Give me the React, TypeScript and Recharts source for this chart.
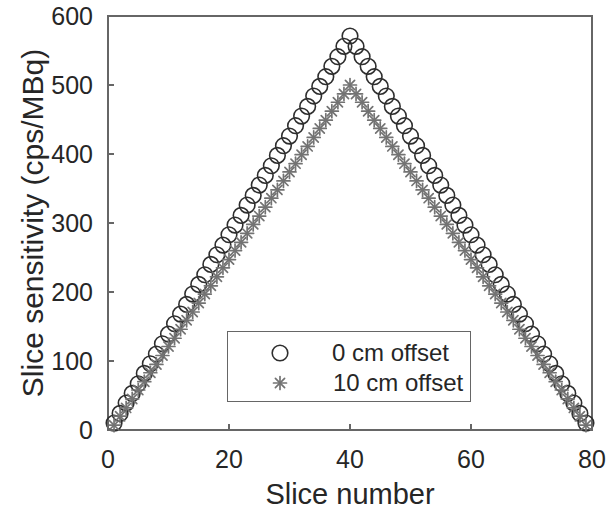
import { ScatterChart, Scatter, XAxis, YAxis, Legend } from "recharts";

// slice index along the axial field of view
const slices = [
  1, 2, 3, 4, 5, 6, 7, 8, 9, 10, 11, 12, 13, 14, 15, 16, 17, 18, 19, 20,
  21, 22, 23, 24, 25, 26, 27, 28, 29, 30, 31, 32, 33, 34, 35, 36, 37, 38, 39, 40,
  41, 42, 43, 44, 45, 46, 47, 48, 49, 50, 51, 52, 53, 54, 55, 56, 57, 58, 59, 60,
  61, 62, 63, 64, 65, 66, 67, 68, 69, 70, 71, 72, 73, 74, 75, 76, 77, 78, 79,
];

// sensitivity (cps/MBq), source at the centre
const centred = [
  10, 24, 39, 53, 67, 82, 96, 110, 125, 139, 154, 168, 182, 197, 211, 225, 240, 254, 268, 283,
  297, 311, 326, 340, 355, 369, 383, 398, 412, 426, 441, 455, 469, 484, 498, 512, 527, 541, 556, 571,
  556, 541, 527, 512, 498, 484, 469, 455, 441, 426, 412, 398, 383, 369, 355, 340, 326, 311, 297, 283,
  268, 254, 240, 225, 211, 197, 182, 168, 154, 139, 125, 110, 96, 82, 67, 53, 39, 24, 10,
];

// sensitivity (cps/MBq), source 10 cm off centre
const offCentre = [
  7, 20, 32, 45, 58, 70, 83, 95, 108, 121, 133, 146, 159, 171, 184, 197, 209, 222, 235, 247,
  260, 272, 285, 298, 310, 323, 336, 348, 361, 374, 386, 399, 411, 424, 437, 449, 462, 475, 487, 500,
  487, 475, 462, 449, 437, 424, 411, 399, 386, 374, 361, 348, 336, 323, 310, 298, 285, 272, 260, 247,
  235, 222, 209, 197, 184, 171, 159, 146, 133, 121, 108, 95, 83, 70, 58, 45, 32, 20, 7,
];

const xTicks = [0, 20, 40, 60, 80];
const yTicks = [0, 100, 200, 300, 400, 500, 600];

const FONT = "'Liberation Sans', Arial, Helvetica, sans-serif";
const INK = "#262626";
const AXIS = "#666666";
const RING = "#2e2e2e";
const STAR = "#737373";
const TICK_LEN = 6;
const LW = 2;

const W = 611;
const H = 512;
const MARGIN = { top: 16, right: 19, left: 8, bottom: 7 };
const Y_AXIS_W = 100;
const X_AXIS_H = 75;

const centredData = slices.map((s, i) => ({ x: s, y: centred[i] }));
const offCentreData = slices.map((s, i) => ({ x: s, y: offCentre[i] }));

// inward tick marks, labels only on bottom/left
function BottomTick({ x, y, payload }: any) {
  return (
    <g>
      <rect x={x - LW / 2} y={y - TICK_LEN} width={LW} height={TICK_LEN} fill={AXIS} />
      <text x={x} y={y + 20} dy="0.71em" textAnchor="middle" fill={INK} fontSize={25} fontFamily={FONT}>
        {payload.value}
      </text>
    </g>
  );
}

function TopTick({ x, y }: any) {
  return <rect x={x - LW / 2} y={y} width={LW} height={TICK_LEN} fill={AXIS} />;
}

function LeftTick({ x, y, payload }: any) {
  return (
    <g>
      <rect x={x} y={y - LW / 2} width={TICK_LEN} height={LW} fill={AXIS} />
      <text x={x - 15} y={y} dy="0.36em" textAnchor="end" fill={INK} fontSize={25} fontFamily={FONT}>
        {payload.value}
      </text>
    </g>
  );
}

function RightTick({ x, y }: any) {
  return <rect x={x - TICK_LEN} y={y - LW / 2} width={TICK_LEN} height={LW} fill={AXIS} />;
}

function XTitle({ viewBox }: any) {
  if (!viewBox) return null;
  return (
    <text x={viewBox.x + viewBox.width / 2} y={viewBox.y + 74} textAnchor="middle" fill={INK} fontSize={29} fontFamily={FONT}>
      Slice number
    </text>
  );
}

function YTitle({ viewBox }: any) {
  if (!viewBox) return null;
  const tx = viewBox.x + 24;
  const ty = viewBox.y + viewBox.height / 2;
  return (
    <text
      x={tx}
      y={ty}
      transform={`rotate(-90, ${tx}, ${ty})`}
      textAnchor="middle"
      dominantBaseline="central"
      fill={INK}
      fontSize={30}
      fontFamily={FONT}
    >
      Slice sensitivity (cps/MBq)
    </text>
  );
}

function Ring({ cx, cy }: any) {
  return <circle cx={cx} cy={cy} r={7.8} fill="none" stroke={RING} strokeWidth={1.6} />;
}

function Asterisk({ cx, cy }: any) {
  const r = 6.5;
  const d = r * 0.707;
  return (
    <g stroke={STAR} strokeWidth={1.7} strokeLinecap="round">
      <line x1={cx - r} y1={cy} x2={cx + r} y2={cy} />
      <line x1={cx} y1={cy - r} x2={cx} y2={cy + r} />
      <line x1={cx - d} y1={cy - d} x2={cx + d} y2={cy + d} />
      <line x1={cx - d} y1={cy + d} x2={cx + d} y2={cy - d} />
    </g>
  );
}

function LegendBox({ payload }: any) {
  const rows = payload || [];
  return (
    <div
      style={{
        boxSizing: "border-box",
        width: 244,
        height: 71,
        border: `1.5px solid ${AXIS}`,
        background: "#fff",
        paddingTop: 6,
        fontFamily: FONT,
        fontSize: 24,
        color: INK,
      }}
    >
      {rows.map((entry: any, i: number) => (
        <div key={entry.value} style={{ display: "flex", alignItems: "center", height: 30 }}>
          <svg width={20} height={20} style={{ marginLeft: 42 }}>
            {i === 0 ? <Ring cx={10} cy={10} /> : <Asterisk cx={10} cy={10} />}
          </svg>
          <span style={{ marginLeft: i === 0 ? 42 : 43, lineHeight: "30px" }}>{entry.value}</span>
        </div>
      ))}
    </div>
  );
}

export default function App() {
  // plot box follows from the chart margins and axis sizes
  const plotLeft = MARGIN.left + Y_AXIS_W;
  const plotTop = MARGIN.top;
  const plotW = W - plotLeft - MARGIN.right;
  const plotH = H - MARGIN.top - MARGIN.bottom - X_AXIS_H;
  return (
    <div style={{ position: "absolute", left: 0, top: 0, width: W, height: H, background: "#fff" }}>
      {/* axes box, sits under the transparent chart surface */}
      <div
        style={{
          position: "absolute",
          left: plotLeft - 1,
          top: plotTop - 1,
          width: plotW + 2,
          height: plotH + 2,
          boxSizing: "border-box",
          border: `2px solid ${AXIS}`,
          background: "#fff",
        }}
      />
      <div style={{ position: "absolute", left: 0, top: 0 }}>
        <ScatterChart width={W} height={H} margin={MARGIN}>
          <XAxis
            type="number"
            dataKey="x"
            domain={[0, 80]}
            ticks={xTicks}
            interval={0}
            height={X_AXIS_H}
            tickSize={0}
            tickMargin={0}
            axisLine={false}
            tickLine={false}
            tick={<BottomTick />}
            label={<XTitle />}
          />
          <XAxis
            xAxisId="top"
            orientation="top"
            type="number"
            domain={[0, 80]}
            ticks={xTicks}
            interval={0}
            height={0}
            tickSize={0}
            tickMargin={0}
            axisLine={false}
            tickLine={false}
            tick={<TopTick />}
          />
          <YAxis
            type="number"
            dataKey="y"
            domain={[0, 600]}
            ticks={yTicks}
            interval={0}
            width={Y_AXIS_W}
            tickSize={0}
            tickMargin={0}
            axisLine={false}
            tickLine={false}
            tick={<LeftTick />}
            label={<YTitle />}
          />
          <YAxis
            yAxisId="right"
            orientation="right"
            type="number"
            domain={[0, 600]}
            ticks={yTicks}
            interval={0}
            width={0}
            tickSize={0}
            tickMargin={0}
            axisLine={false}
            tickLine={false}
            tick={<RightTick />}
          />
          <Legend
            layout="vertical"
            align="center"
            verticalAlign="middle"
            wrapperStyle={{ left: 227, top: 331, width: 244, height: 71 }}
            content={<LegendBox />}
          />
          <Scatter name="0 cm offset" data={centredData} shape={<Ring />} isAnimationActive={false} />
          <Scatter name="10 cm offset" data={offCentreData} shape={<Asterisk />} isAnimationActive={false} />
        </ScatterChart>
      </div>
    </div>
  );
}
